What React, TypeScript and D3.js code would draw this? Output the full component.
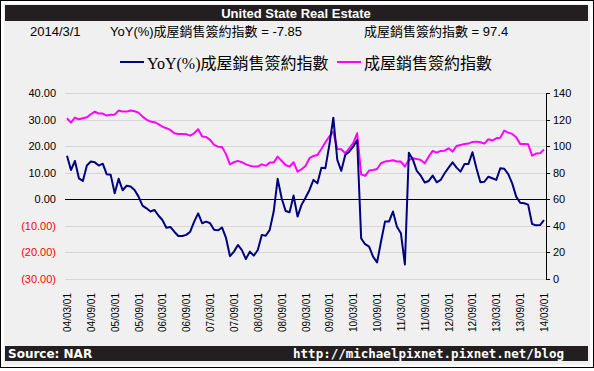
import React from 'react';
import * as d3 from 'd3';

// monthly, 2004/03 .. 2014/03
const months: Date[] = d3.timeMonth.range(new Date(2004, 2, 1), new Date(2014, 3, 1));

const tickLabels = [
  '04/03/01', '04/09/01', '05/03/01', '05/09/01', '06/03/01', '06/09/01', '07/03/01',
  '07/09/01', '08/03/01', '08/09/01', '09/03/01', '09/09/01', '10/03/01', '10/09/01',
  '11/03/01', '11/09/01', '12/03/01', '12/09/01', '13/03/01', '13/09/01', '14/03/01',
];

const leftTicks = [40, 30, 20, 10, 0, -10, -20, -30];
const rightTicks = [140, 120, 100, 80, 60, 40, 20, 0];

// YoY(%) 成屋銷售簽約指數
const yoy = [
  16.4, 11.0, 14.4, 7.9, 6.9, 12.7, 14.2, 13.9, 12.7, 13.4,
  9.4, 9.2, 2.3, 7.7, 3.4, 5.1, 4.8, 3.5, 1.0, -2.4,
  -3.4, -4.6, -4.0, -6.1, -7.8, -10.7, -10.4, -12.2, -13.8, -13.8,
  -13.4, -12.2, -8.4, -5.3, -9.0, -8.4, -9.0, -11.5, -11.7, -10.6,
  -14.5, -21.4, -19.7, -17.2, -19.1, -22.5, -19.7, -21.2, -19.1, -13.4,
  -13.7, -11.5, -4.6, 7.7, 0.4, -4.4, -4.9, 1.4, -6.5, -2.1,
  0.6, 3.5, 7.3, 6.0, 11.9, 11.7, 20.5, 30.7, 14.8, 10.7,
  16.7, 17.9, 19.8, 22.3, -14.7, -16.9, -17.8, -21.6, -23.8, -15.9,
  -8.4, -8.4, -4.6, -10.3, -12.8, -24.5, 17.5, 15.0, 10.7, 8.9,
  6.3, 6.9, 8.9, 6.4, 7.3, 9.8, 11.9, 13.9, 11.9, 10.4,
  13.3, 13.3, 17.7, 11.7, 6.4, 6.6, 8.5, 7.9, 7.3, 11.7,
  11.5, 9.5, 6.0, 1.0, -1.3, -1.5, -2.0, -9.3, -9.8, -9.7,
  -7.85,
];

// 成屋銷售簽約指數
const index = [
  121.0, 117.7, 121.5, 120.2, 121.0, 121.7, 124.0, 126.0, 124.5, 124.5,
  123.0, 123.7, 123.7, 126.8, 126.0, 126.0, 126.8, 126.3, 125.2, 122.2,
  120.0, 118.5, 118.0, 116.5, 114.7, 113.5, 112.2, 109.7, 109.2, 109.2,
  108.9, 107.9, 109.7, 112.7, 107.2, 106.9, 104.7, 100.9, 99.6, 99.4,
  94.0, 86.3, 87.9, 88.9, 87.9, 86.3, 85.3, 84.6, 84.6, 86.3,
  85.3, 87.6, 87.6, 92.1, 88.9, 85.8, 84.6, 87.9, 80.8, 82.6,
  85.1, 90.9, 92.6, 93.4, 97.9, 102.9, 107.2, 110.9, 97.9, 97.6,
  94.6, 98.4, 102.2, 109.7, 78.8, 77.6, 81.6, 82.1, 82.8, 87.1,
  88.4, 88.9, 89.4, 88.4, 88.4, 84.6, 89.6, 90.9, 90.4, 89.6,
  87.1, 92.1, 96.4, 95.1, 96.4, 96.6, 98.4, 95.9, 100.1, 100.9,
  101.7, 101.9, 103.2, 103.4, 102.9, 101.9, 105.2, 104.2, 105.9, 106.4,
  111.7, 110.2, 109.2, 106.7, 101.7, 101.7, 101.4, 92.9, 94.4, 94.6,
  97.4,
];

const W = 594;
const H = 371;
const plot = { left: 65, right: 546, top: 93, bottom: 279 };

const NAVY = '#000080';
const MAGENTA = '#ff00ff';
const sans = 'Liberation Sans, Arial, sans-serif';
const cjk = 'Liberation Sans, Noto Sans CJK TC, sans-serif';
const legendFont = 'Liberation Serif, Noto Sans CJK TC, serif';

const fmtLeft = (v: number) => (v < 0 ? `(${Math.abs(v).toFixed(2)})` : v.toFixed(2));

export default function App() {
  const x = d3.scalePoint<number>()
    .domain(d3.range(months.length))
    .range([plot.left, plot.right])
    .padding(0.5);
  const yL = d3.scaleLinear().domain([-30, 40]).range([plot.bottom, plot.top]);
  const yR = d3.scaleLinear().domain([0, 140]).range([plot.bottom, plot.top]);

  const yoyLine = d3.line<number>().x((_, i) => x(i)!).y(d => yL(d));
  const idxLine = d3.line<number>().x((_, i) => x(i)!).y(d => yR(d));

  return (
    <svg width={W} height={H} style={{ position: 'absolute', left: 0, top: 0, display: 'block' }}>
      <rect x={0} y={0} width={W} height={H} fill="#fff" />
      <rect x={0.5} y={0.5} width={593} height={367} fill="#fff" stroke="#000" />
      <rect x={4} y={4} width={586} height={361} fill="#f0f0f0" />

      {/* title bar */}
      <rect x={5} y={5} width={583} height={16} fill="#231f20" />
      <text x={296} y={18} textAnchor="middle" fill="#fff" fontFamily={sans} fontWeight="bold" fontSize={13}>
        United State Real Estate
      </text>

      {/* header values */}
      <g fontFamily={cjk} fontSize={13} fill="#000">
        <text x={30} y={36}>2014/3/1</text>
        <text x={110} y={36}>YoY(%)成屋銷售簽約指數 = -7.85</text>
        <text x={364} y={36}>成屋銷售簽約指數 = 97.4</text>
      </g>

      {/* legend */}
      <line x1={120} x2={144} y1={62} y2={62} stroke={NAVY} strokeWidth={2} />
      <text x={147} y={69} fontFamily={legendFont} fontSize={16}>YoY(%)成屋銷售簽約指數</text>
      <line x1={337} x2={361} y1={62} y2={62} stroke={MAGENTA} strokeWidth={2} />
      <text x={364} y={69} fontFamily={legendFont} fontSize={16}>成屋銷售簽約指數</text>

      {/* gridlines */}
      {leftTicks.map(t => (
        <line key={t} x1={plot.left} x2={plot.right} y1={Math.round(yL(t)) + 0.5} y2={Math.round(yL(t)) + 0.5}
          stroke="#d9d5d5" />
      ))}
      <line x1={plot.left} x2={plot.right} y1={Math.round(yL(0)) + 0.5} y2={Math.round(yL(0)) + 0.5}
        stroke="#000" strokeWidth={1.2} />

      {/* left axis labels */}
      <g fontFamily={sans} fontSize={11} textAnchor="end">
        {leftTicks.map(t => (
          <text key={t} x={56} y={yL(t) + 4} fill={t < 0 ? '#ff0000' : '#000'}>{fmtLeft(t)}</text>
        ))}
      </g>

      {/* right axis */}
      <line x1={plot.right + 0.5} x2={plot.right + 0.5} y1={plot.top} y2={plot.bottom + 1} stroke="#000" />
      <g fontFamily={sans} fontSize={11}>
        {rightTicks.map(t => (
          <g key={t}>
            <line x1={plot.right} x2={plot.right + 4} y1={Math.round(yR(t)) + 0.5} y2={Math.round(yR(t)) + 0.5} stroke="#000" />
            <text x={553} y={yR(t) + 4}>{t}</text>
          </g>
        ))}
      </g>

      {/* x labels */}
      <g fontFamily={sans} fontSize={10} textAnchor="end">
        {tickLabels.map((lab, k) => {
          const px = x(k * 6)! + 4;
          return (
            <text key={lab} transform={`translate(${px},293) rotate(-90)`}>{lab}</text>
          );
        })}
      </g>

      {/* series */}
      <path d={idxLine(index)!} fill="none" stroke={MAGENTA} strokeWidth={2} strokeLinejoin="round" />
      <path d={yoyLine(yoy)!} fill="none" stroke={NAVY} strokeWidth={2} strokeLinejoin="round" />

      {/* footer */}
      <rect x={5} y={346} width={583} height={15} fill="#231f20" />
      <text x={8} y={358} fill="#fff" fontFamily="DejaVu Sans, sans-serif" fontWeight="bold" fontSize={12}>Source: NAR</text>
      <text x={564} y={358} textAnchor="end" fill="#fff" fontFamily="DejaVu Sans Mono, monospace" fontWeight="bold" fontSize={12.5}>
        http://michaelpixnet.pixnet.net/blog
      </text>
    </svg>
  );
}
